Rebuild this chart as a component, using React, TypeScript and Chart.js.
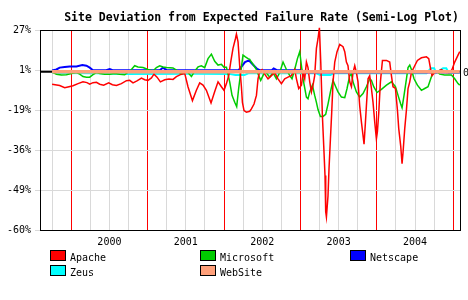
import React, { useEffect, useRef } from 'react';
import { Chart, registerables } from 'chart.js';

Chart.register(...registerables);

const TITLE = 'Site Deviation from Expected Failure Rate (Semi-Log Plot)';
const Y_TICK_PCT = [27, 1, -19, -36, -49, -60];
const Y_TICK_LABELS = ['27%', '1%', '-19%', '-36%', '-49%', '-60%'];
const YEAR_LABELS = ['2000', '2001', '2002', '2003', '2004'];

// x values: months since Jan 2000; y values: % deviation from expected failure rate
const APACHE_M = [-3.0,-1.81,-1.02,-0.35,0.28,1.07,1.85,2.48,2.91,3.42,
  3.96,4.48,5.10,5.89,6.47,7.10,7.88,8.67,9.19,9.71,
  10.33,11.03,11.54,12.06,12.60,13.0,13.48,14.01,14.69,15.36,
  15.99,16.52,17.31,17.83,18.34,19.04,19.66,20.18,20.70,21.23,
  21.96,22.54,23.06,23.59,24.0,24.38,24.74,25.05,25.41,25.79,
  25.95,26.20,26.46,26.73,26.89,27.14,27.52,28.04,28.30,28.71,
  29.09,29.34,29.61,29.97,30.39,30.91,31.44,31.96,32.48,33.01,
  33.53,34.05,34.58,35.10,35.37,35.73,36.16,36.41,36.67,36.94,
  37.19,37.46,37.73,37.98,38.24,38.51,38.76,38.98,39.19,39.45,
  39.66,39.86,39.97,40.08,40.33,40.49,40.71,40.91,41.12,41.39,
  41.75,42.17,42.69,42.96,43.22,43.47,43.74,44.01,44.26,44.53,
  44.79,45.04,45.31,45.58,45.83,45.99,46.21,46.36,46.62,46.88,
  47.15,47.40,47.67,47.93,48.09,48.30,48.56,48.88,49.51,50.02,
  50.29,50.54,50.92,51.23,51.44,51.75,51.96,52.11,52.38,52.65,
  52.90,53.17,53.43,53.95,54.37,55.0,55.79,56.15,56.46,56.67,
  57.09,58.14,58.93,59.45,59.81,60.23,60.75,61.02];
const APACHE_PCT = [-6.6,-7.3,-8.4,-7.9,-7.4,-6.3,-5.4,-5.8,-6.6,-5.8,
  -5.6,-6.6,-7.1,-5.9,-6.9,-7.3,-6.3,-4.8,-4.6,-5.9,
  -4.9,-3.4,-4.3,-4.6,-3.3,-1.3,-2.9,-5.4,-4.3,-3.9,
  -4.1,-2.6,-1.3,-0.9,-7.9,-14.7,-9.7,-5.9,-7.1,-9.7,
  -15.8,-10.3,-5.4,-7.9,-9.7,-6.3,-2.1,5.7,14.3,20.8,
  24.1,18.7,3.5,-7.9,-15.5,-19.3,-20.0,-19.6,-18.5,-16.3,
  -12.2,-3.8,0.4,1.3,-1.3,-3.8,-2.1,-0.4,-3.8,-6.3,
  -3.8,-2.9,-2.1,1.3,-3.8,-8.8,-7.1,-0.4,-3.8,5.7,
  2.4,-5.4,-10.5,-7.1,-2.1,14.3,20.8,28.6,5.9,-21.7,
  -34.5,-44.6,-55.3,-56.7,-50.8,-42.4,-31.7,-20.3,-5.4,5.7,
  12.2,16.9,15.4,12.2,5.7,3.5,-5.4,-7.9,-0.4,3.5,
  -0.4,-5.4,-17.2,-24.6,-30.3,-33.8,-24.6,-17.2,-3.8,-2.1,
  -8.8,-15.5,-24.6,-31.7,-28.7,-20.3,-5.4,6.7,6.7,5.7,
  -2.1,-7.9,-8.8,-18.9,-27.4,-34.5,-40.8,-37.0,-27.4,-18.9,
  -8.8,-5.4,-0.4,3.5,6.7,8.3,8.9,7.8,1.3,-2.1,
  -0.4,1.3,-0.4,-0.4,1.3,5.7,10.0,12.2];

const MICROSOFT_M = [-3.0,-2.32,-1.54,-0.75,0.03,0.82,1.34,1.85,2.39,2.91,
  3.42,3.96,4.48,5.26,6.05,6.83,7.62,8.40,9.46,9.97,
  10.49,11.28,12.06,12.85,13.38,13.90,14.42,14.95,15.99,16.77,
  17.31,17.83,18.34,18.88,19.40,19.92,20.45,20.97,21.49,22.02,
  22.54,23.06,23.59,24.0,24.38,24.89,25.26,25.68,25.99,26.30,
  26.62,26.98,27.36,27.77,28.04,28.30,28.71,29.09,29.45,29.76,
  30.12,30.39,30.82,31.18,31.69,32.23,32.75,33.27,33.80,34.32,
  34.68,35.10,35.53,35.89,36.16,36.41,36.94,37.19,37.46,37.88,
  38.24,38.51,38.76,39.14,39.55,39.97,40.33,40.71,41.12,41.54,
  41.90,42.44,42.96,43.32,43.74,44.01,44.26,44.79,45.31,45.83,
  46.36,46.88,47.15,47.51,48.03,48.72,49.51,50.29,50.92,51.33,
  51.75,51.96,52.27,52.65,52.90,53.17,53.43,53.84,54.37,55.0,
  55.52,56.04,56.46,56.83,57.36,57.88,58.66,59.72,60.23,60.75,61.02];
const MICROSOFT_PCT = [-0.1,-1.3,-1.8,-1.6,-0.9,-0.4,-1.3,-2.6,-2.9,-2.9,
  -1.6,-0.4,-0.9,-1.3,-1.3,-0.9,-1.3,-1.6,1.3,3.5,
  2.8,2.4,1.3,0.4,2.4,3.5,2.8,2.4,2.2,0.4,
  -1.3,0.4,-0.4,-2.6,0.4,2.8,3.5,2.4,7.8,10.6,
  6.2,3.9,4.3,2.6,2.6,-5.4,-12.2,-15.5,-17.5,-8.8,
  -0.4,10.0,8.9,7.8,7.4,5.7,3.5,1.3,-2.1,-4.6,
  -2.1,0.4,-1.3,-2.9,-0.4,-3.8,-0.4,5.7,1.3,-2.1,
  -3.8,1.3,7.8,12.2,3.5,-3.8,-13.0,-13.8,-10.5,-7.1,
  -12.2,-15.5,-18.8,-22.0,-22.0,-21.0,-16.3,-10.5,-4.6,-7.9,
  -10.5,-13.0,-13.3,-8.8,-2.1,-1.3,-5.4,-10.5,-13.0,-11.3,
  -7.9,-3.8,-4.6,-7.9,-10.8,-9.2,-7.1,-5.4,-7.9,-12.2,
  -16.3,-18.0,-12.2,-3.8,2.4,3.9,1.3,-3.8,-7.1,-9.7,
  -8.8,-7.9,-3.8,-0.4,0.4,-1.3,-1.8,-1.8,-3.8,-6.3,-7.1];

const NETSCAPE_M = [-3.0,-2.32,-1.81,-1.02,-0.24,0.82,1.75,2.39,2.91,3.42,
  5.5,6.05,6.5,13.9,14.4,15.0,26.3,27.3,27.9,28.6,
  29.2,29.6,31.5,31.8,32.3,35.9,36.3,61.02];
const NETSCAPE_PCT = [0.7,1.3,2.4,2.8,3.1,3.1,3.9,3.5,2.4,0.9,
  0.9,1.5,0.9,0.9,2.3,0.9,0.9,5.7,6.7,3.9,
  1.6,0.9,0.9,1.9,0.9,0.9,-0.4,-0.4];

const ZEUS_M = [-3.0,4.0,8.0,20.0,25.0,25.8,27.2,27.8,38.5,39.1,
  40.7,41.2,55.8,56.5,57.0,57.3,58.4,58.9,59.3,61.02];
const ZEUS_PCT = [-0.6,-0.8,-1.2,-1.0,-1.2,-1.8,-1.8,-0.8,-0.8,-1.8,
  -1.8,-0.8,-0.8,2.0,2.0,-0.6,2.0,2.0,-0.6,-0.6];

const WEBSITE_M = [-3.0, 61.02];
const WEBSITE_PCT = [0, 0];

const FONT = '"DejaVu Sans Mono", monospace';
const X_MIN = -4.9;
const X_MAX = 61.06;

const LN_TICKS = Y_TICK_PCT.map((t) => Math.log(1 + t / 100));
// semi-log mapping: percent deviation -> axis units (one unit per labelled gridline)
function toAxis(p: number): number {
  const r = Math.log(1 + p / 100);
  let i = 0;
  while (i < LN_TICKS.length - 2 && r < LN_TICKS[i + 1]) i++;
  const f = (LN_TICKS[i] - r) / (LN_TICKS[i] - LN_TICKS[i + 1]);
  return 1 - i - f;
}

export default function App() {
  const ref = useRef<HTMLCanvasElement>(null);

  useEffect(() => {
    document.body.style.margin = '0';
    const canvas = ref.current;
    if (!canvas) return;

    const series = [
      { label: 'Apache', color: '#ff0000', m: APACHE_M, p: APACHE_PCT, width: 1.5, order: 1 },
      { label: 'Microsoft', color: '#00cc00', m: MICROSOFT_M, p: MICROSOFT_PCT, width: 1.5, order: 2 },
      { label: 'Netscape', color: '#0000ff', m: NETSCAPE_M, p: NETSCAPE_PCT, width: 2, order: 3 },
      { label: 'Zeus', color: '#00ffff', m: ZEUS_M, p: ZEUS_PCT, width: 2, order: 4 },
      { label: 'WebSite', color: '#ffa07a', m: WEBSITE_M, p: WEBSITE_PCT, width: 3.5, order: 0 },
    ];
    const legendSlots = [
      [50, 250], [200, 250], [350, 250], [50, 265], [200, 265],
    ];

    const decor = {
      id: 'decor',
      beforeDatasetsDraw(chart: any) {
        const { ctx, chartArea: a, scales } = chart;
        const y0 = scales.y.getPixelForValue(toAxis(0));
        ctx.save();
        ctx.strokeStyle = '#000';
        ctx.lineWidth = 2;
        ctx.beginPath();
        ctx.moveTo(a.left, y0);
        ctx.lineTo(a.right, y0);
        ctx.stroke();
        ctx.lineWidth = 1;
        ctx.strokeRect(a.left + 0.5, a.top + 0.5, a.right - a.left, a.bottom - a.top);
        ctx.restore();
      },
      afterDraw(chart: any) {
        const { ctx, scales } = chart;
        ctx.save();
        ctx.fillStyle = '#000';
        ctx.font = `bold 11.5px ${FONT}`;
        ctx.textAlign = 'center';
        ctx.textBaseline = 'alphabetic';
        ctx.fillText(TITLE, 261.5, 20.5);

        ctx.font = `10px ${FONT}`;
        ctx.textAlign = 'left';
        const y0 = scales.y.getPixelForValue(toAxis(0));
        ctx.fillText('0', 463, y0 + 4.5);

        series.forEach((s, i) => {
          const [x, y] = legendSlots[i];
          ctx.fillStyle = s.color;
          ctx.fillRect(x + 0.5, y + 0.5, 15, 10);
          ctx.strokeStyle = '#000';
          ctx.lineWidth = 1;
          ctx.strokeRect(x + 0.5, y + 0.5, 15, 10);
          ctx.fillStyle = '#000';
          ctx.fillText(s.label, x + 20, y + 10.5);
        });
        ctx.restore();
      },
    };

    const quarters: number[] = [];
    for (let m = -3; m <= 60; m += 3) quarters.push(m);

    const chart = new Chart(canvas, {
      type: 'line',
      data: {
        datasets: series.map((s) => ({
          label: s.label,
          data: s.m.map((m, i) => ({ x: m, y: toAxis(s.p[i]) })),
          borderColor: s.color,
          backgroundColor: s.color,
          borderWidth: s.width,
          pointRadius: 0,
          tension: 0,
          fill: false,
          order: s.order,
          clip: 6,
        })),
      },
      options: {
        responsive: false,
        animation: false,
        devicePixelRatio: 1,
        events: [],
        layout: { padding: { top: 30, right: 8, bottom: 50, left: 0 } },
        plugins: {
          legend: { display: false },
          title: { display: false },
          tooltip: { enabled: false },
        },
        scales: {
          x: {
            type: 'linear',
            min: X_MIN,
            max: X_MAX,
            afterBuildTicks: (s: any) => {
              s.ticks = quarters.map((v) => ({ value: v }));
            },
            afterFit: (s: any) => {
              s.height = 20;
            },
            border: { display: false },
            grid: {
              color: (c: any) => (c.tick && c.tick.value % 12 === 0 ? '#ff0000' : '#d9d9d9'),
              lineWidth: 1,
              drawTicks: false,
            },
            ticks: {
              autoSkip: false,
              maxRotation: 0,
              padding: 6,
              color: '#000',
              font: { family: FONT, size: 10 },
              callback: (v: any) => {
                const n = Number(v);
                if (n % 12 !== 6) return '';
                return YEAR_LABELS[(n - 6) / 12] ?? '';
              },
            },
          },
          y: {
            type: 'linear',
            min: -4,
            max: 1,
            afterBuildTicks: (s: any) => {
              s.ticks = [-4, -3, -2, -1, 0, 1].map((v) => ({ value: v }));
            },
            afterFit: (s: any) => {
              s.width = 40;
            },
            border: { display: false },
            grid: { color: '#d9d9d9', lineWidth: 1, tickLength: 5, drawTicks: true },
            ticks: {
              autoSkip: false,
              padding: 4,
              color: '#000',
              font: { family: FONT, size: 10 },
              callback: (v: any) => Y_TICK_LABELS[Math.round(1 - Number(v))] ?? '',
            },
          },
        },
      },
      plugins: [decor],
    } as any);

    return () => chart.destroy();
  }, []);

  return <canvas ref={ref} width={468} height={300} style={{ display: 'block' }} />;
}
